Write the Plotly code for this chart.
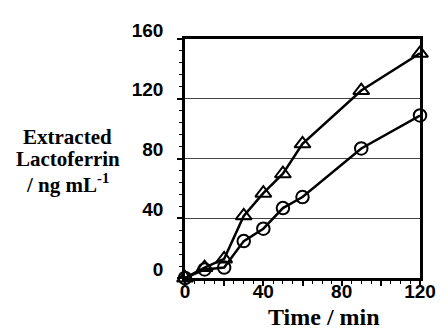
import plotly.graph_objects as go

time_min = [0, 10, 20, 30, 40, 50, 60, 90, 120]
series_triangle = [0, 7, 12.8, 41.6, 56.8, 69.8, 89.8, 125.5, 150.4]
series_circle = [0, 5.7, 7, 24.7, 33, 46.8, 54.2, 86.7, 108.8]

x_tickvals = [0, 20, 40, 60, 80, 100, 120]
x_ticktext = ["0", "", "40", "", "80", "", "120"]
y_tickvals = [0, 40, 80, 120, 160]
y_ticktext = ["0", "40", "80", "120", "160"]

fig = go.Figure()
fig.add_trace(go.Scatter(
    x=time_min, y=series_triangle, mode="lines+markers",
    line=dict(color="black", width=2.5),
    marker=dict(symbol="triangle-up-open", size=14, color="black", line=dict(width=2, color="black")),
    cliponaxis=False, showlegend=False))
fig.add_trace(go.Scatter(
    x=time_min, y=series_circle, mode="lines+markers",
    line=dict(color="black", width=2.5),
    marker=dict(symbol="circle-open", size=12.5, color="black", line=dict(width=2, color="black")),
    cliponaxis=False, showlegend=False))

tickfont = dict(family="Liberation Sans", size=19, color="black", weight="bold")
serif = dict(family="Liberation Serif", size=21, color="black", weight="bold")

fig.update_layout(
    width=440, height=321,
    margin=dict(l=177, r=19, t=25, b=51),
    paper_bgcolor="white", plot_bgcolor="white",
    xaxis=dict(range=[0, 120], tickmode="array", tickvals=x_tickvals, ticktext=x_ticktext,
               ticks="outside", ticklen=5, tickwidth=1.5, tickcolor="black",
               minor=dict(dtick=5, ticks="outside", ticklen=3, tickwidth=1, tickcolor="black"),
               showline=True, linewidth=2.5, linecolor="black", mirror=True,
               showgrid=False, zeroline=False, tickfont=tickfont, ticklabelstandoff=-11),
    yaxis=dict(range=[0, 160], tickmode="array", tickvals=y_tickvals, ticktext=y_ticktext,
               ticks="outside", ticklen=5, tickwidth=1.5, tickcolor="black",
               minor=dict(dtick=8, ticks="outside", ticklen=3, tickwidth=1, tickcolor="black", showgrid=False),
               showline=True, linewidth=2.5, linecolor="black", mirror=True,
               showgrid=True, gridcolor="#444", gridwidth=1, zeroline=False,
               tickfont=tickfont, ticklabelshift=-9, ticklabelstandoff=10),
)

ylines = ["Extracted", "Lactoferrin", "/ ng mL<sup>-1</sup>"]
ypos = [0.592, 0.498, 0.394]
for t, yy in zip(ylines, ypos):
    fig.add_annotation(text=t, xref="paper", yref="paper", x=-0.50, y=yy,
                       xanchor="center", yanchor="middle", showarrow=False, font=serif)
fig.add_annotation(text="Time / min", xref="paper", yref="paper", x=0.59, y=-0.163,
                   xanchor="center", yanchor="middle", showarrow=False,
                   font=dict(family="Liberation Serif", size=24, color="black", weight="bold"))

fig.write_html("out.html")
